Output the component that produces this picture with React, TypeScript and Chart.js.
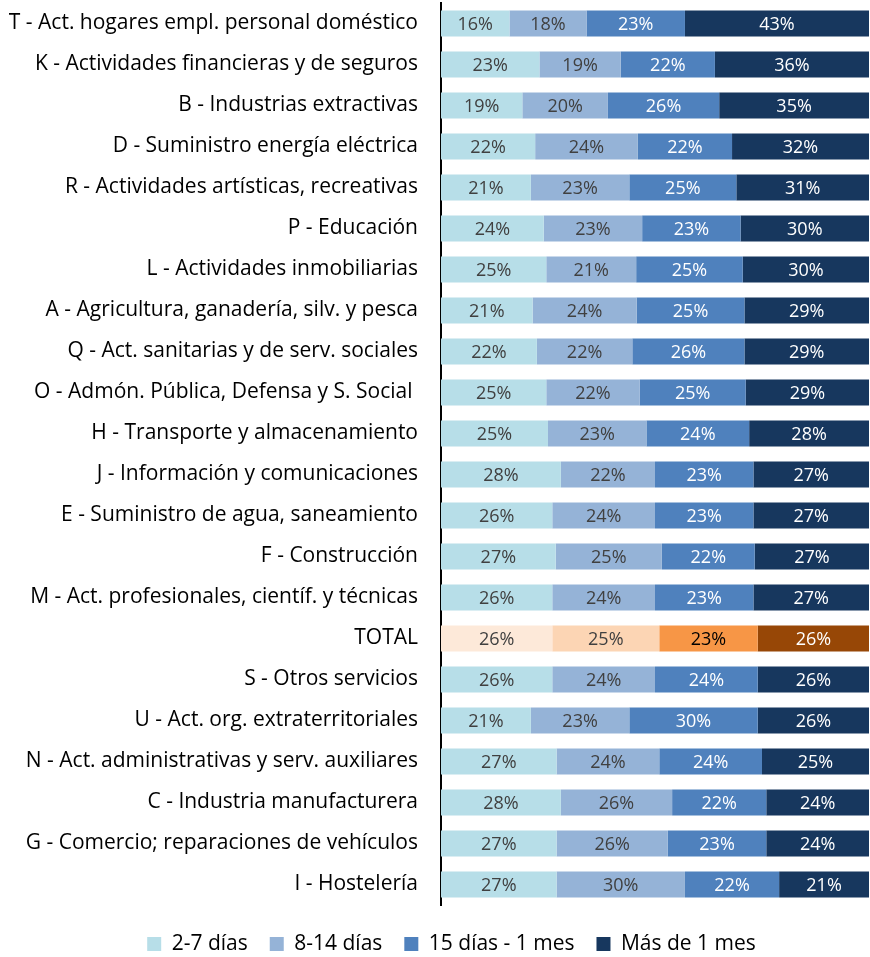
import React, { useEffect, useRef } from "react";
import { Chart, registerables } from "chart.js";

Chart.register(...registerables);

const categories = [
  "T - Act. hogares empl. personal doméstico",
  "K - Actividades financieras y de seguros",
  "B - Industrias extractivas",
  "D - Suministro energía eléctrica",
  "R - Actividades artísticas, recreativas",
  "P - Educación",
  "L - Actividades inmobiliarias",
  "A - Agricultura, ganadería, silv. y pesca",
  "Q - Act. sanitarias y de serv. sociales",
  "O - Admón. Pública, Defensa y S. Social ",
  "H - Transporte y almacenamiento",
  "J - Información y comunicaciones",
  "E - Suministro de agua, saneamiento",
  "F - Construcción",
  "M - Act. profesionales, científ. y técnicas",
  "TOTAL",
  "S - Otros servicios",
  "U - Act. org. extraterritoriales",
  "N - Act. administrativas y serv. auxiliares",
  "C - Industria manufacturera",
  "G - Comercio; reparaciones de vehículos",
  "I - Hostelería",
];

const seriesNames = ["2-7 días", "8-14 días", "15 días - 1 mes", "Más de 1 mes"];

const dias2a7 = [16, 23, 19, 22, 21, 24, 24.6, 21.4, 22.4, 24.6, 25, 28, 26, 26.8, 26, 26, 26, 21, 27, 28, 27, 27];
const dias8a14 = [18, 19, 20, 24, 23, 23, 21.0, 24.3, 22.3, 21.8, 23, 22, 24, 24.8, 24, 25, 24, 23, 24, 26, 26, 30];
const dias15a1mes = [23, 22, 26, 22, 25, 23, 24.9, 25.2, 26.2, 24.8, 24, 23, 23, 21.7, 23, 23, 24, 30, 24, 22, 23, 22];
const masDe1mes = [43, 36, 35, 32, 31, 30, 29.5, 29.1, 29.1, 28.8, 28, 27, 27, 26.7, 27, 26, 26, 26, 25, 24, 24, 21];

const blueColors = ["#B7DEE8", "#95B3D7", "#4F81BD", "#17375E"];
const totalColors = ["#FDE9D9", "#FCD5B4", "#F79646", "#974706"];
const blueText = ["#404040", "#404040", "#FFFFFF", "#FFFFFF"];
const totalText = ["#404040", "#404040", "#000000", "#FFFFFF"];

const FONT = "'Open Sans', sans-serif";

export default function App() {
  const ref = useRef<HTMLCanvasElement | null>(null);

  useEffect(() => {
    if (!ref.current) return;
    const totalIdx = categories.indexOf("TOTAL");
    const allSeries = [dias2a7, dias8a14, dias15a1mes, masDe1mes];

    const labelPlugin = {
      id: "segLabels",
      afterLayout(chart: any) {
        if (chart.legend) {
          chart.legend.left += 12.5;
          chart.legend.right += 12.5;
        }
      },
      afterDatasetsDraw(chart: any) {
        const ctx = chart.ctx;
        ctx.save();
        ctx.font = `18px ${FONT}`;
        ctx.textAlign = "center";
        ctx.textBaseline = "middle";
        chart.data.datasets.forEach((ds: any, di: number) => {
          const meta = chart.getDatasetMeta(di);
          meta.data.forEach((el: any, i: number) => {
            const v = ds.data[i];
            const x = (el.x + el.base) / 2;
            ctx.fillStyle = i === totalIdx ? totalText[di] : blueText[di];
            ctx.fillText(Math.round(v) + "%", x, el.y + 1);
          });
        });
        ctx.restore();
      },
    };

    const chart = new Chart(ref.current, {
      type: "bar",
      data: {
        labels: categories,
        datasets: allSeries.map((d, di) => ({
          label: seriesNames[di],
          data: d,
          backgroundColor: categories.map((c, i) => (i === totalIdx ? totalColors[di] : blueColors[di])),
          borderWidth: 0,
          categoryPercentage: 1,
          barPercentage: 0.64,
        })),
      },
      options: {
        indexAxis: "y",
        animation: false,
        responsive: false,
        maintainAspectRatio: false,
        layout: { padding: { top: 3, right: 1, left: 9, bottom: -7.5 } },
        scales: {
          x: {
            stacked: true,
            min: 0,
            max: 100,
            display: false,
          },
          y: {
            stacked: true,
            grid: { display: false, drawTicks: false },
            border: { display: true, color: "#000000", width: 2 },
            ticks: {
              color: "#000000",
              font: { family: FONT, size: 21 },
              padding: 23,
              autoSkip: false,
            },
            afterFit(scale: any) {
              scale.paddingTop = 0;
              scale.paddingBottom = 0;
              scale.width = 432;
            },
          },
        },
        plugins: {
          tooltip: { enabled: false },
          legend: {
            position: "bottom",
            title: {
              display: true,
              text: "",
              font: { size: 1, lineHeight: 1 },
              padding: { top: 5.5, bottom: 0 },
            },
            labels: {
              generateLabels: () =>
                seriesNames.map((n, i) => ({
                  text: n,
                  fillStyle: blueColors[i],
                  strokeStyle: blueColors[i],
                  lineWidth: 0,
                  datasetIndex: i,
                  hidden: false,
                  fontColor: "#000000",
                })),
              boxWidth: 14,
              boxHeight: 14,
              padding: 22,
              color: "#000000",
              font: { family: FONT, size: 21 },
            },
          },
        },
      },
      plugins: [labelPlugin],
    });
    return () => chart.destroy();
  }, []);

  return (
    <div style={{ position: "absolute", left: 0, top: 0, width: 870, height: 957, background: "#fff" }}>
      <canvas ref={ref} width={870} height={957} style={{ display: "block" }} />
    </div>
  );
}
